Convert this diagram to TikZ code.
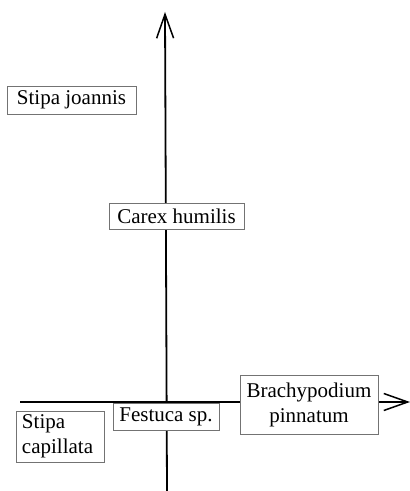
\documentclass[tikz,border=0pt]{standalone}
\usepackage{fontspec}
\setmainfont{Liberation Serif}
\usetikzlibrary{arrows.meta,positioning}
\tikzset{
  species/.style={draw=black!55, fill=white, line width=0.6pt, inner sep=0pt,
    font=\fontsize{21}{25}\selectfont},
  axis/.style={-{Straight Barb[length=24pt,width=17pt,line width=1.5pt]}, line width=1.8pt},
}

\begin{document}
\begin{tikzpicture}[x=1pt,y=1pt]
  \useasboundingbox (0,0) rectangle (410,491);
  \coordinate (xstart) at (20,89);
  \coordinate (xend) at (410,89);
  \coordinate (ystart) at (167,0);
  \coordinate (yend) at (165,479);
  \draw[axis] (xstart) -- (xend);
  \draw[axis] (ystart) -- (yend);
  \node[species, minimum width=129pt, minimum height=28pt] (joannis) at (71.5,391) {Stipa joannis};
  \node[species, minimum width=135pt, minimum height=26pt] (carex) at (176.5,275) {Carex humilis};
  \node[species, minimum width=106pt, minimum height=27pt] (festuca) at (166,74.5) {Festuca sp.};
  \node[species, minimum width=138pt, minimum height=59pt, align=center] (brachy) at (309,86.5) {Brachypodium\\pinnatum};
  \node[species, minimum width=88pt, minimum height=51pt, text width=76pt, align=left] (capillata) at (60,54.5) {Stipa\\capillata};
\end{tikzpicture}
\end{document}
